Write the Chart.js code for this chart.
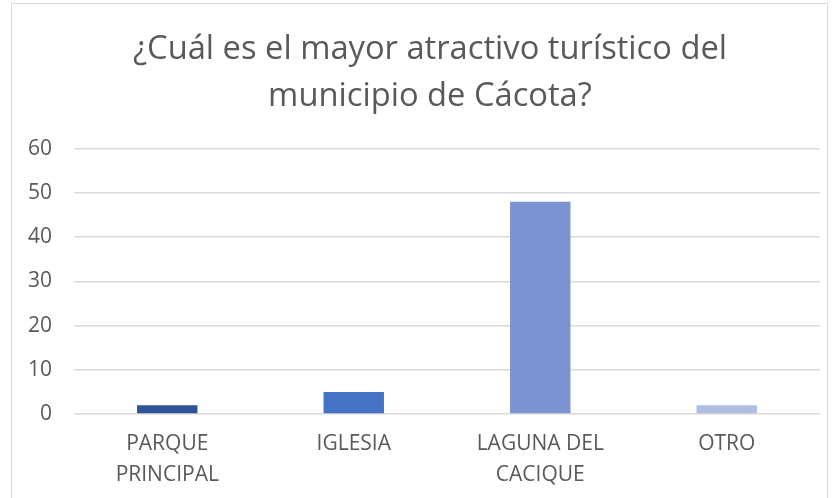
<!DOCTYPE html>
<html>
<head>
<meta charset="utf-8">
<script src="https://cdn.jsdelivr.net/npm/chart.js@4/dist/chart.umd.min.js"></script>
<style>
  html, body { margin: 0; padding: 0; background: #fff; }
  #wrap { position: relative; width: 835px; height: 498px; }
  #frame { position: absolute; left: 11px; top: 3px; width: 817px; height: 500px;
           border: 1px solid #d9d9d9; box-sizing: border-box; pointer-events: none; }
</style>
</head>
<body>
<div id="wrap">
  <canvas id="chart" width="835" height="498"></canvas>
  <div id="frame"></div>
</div>
<script>
    'use strict';

    const categories = [['PARQUE', 'PRINCIPAL'], 'IGLESIA', ['LAGUNA DEL', 'CACIQUE'], 'OTRO'];
    const values = [2, 5, 48, 2];
    const barColors = ['#2f5597', '#4472c4', '#7b93d0', '#b0bde2'];
    const titleLines = ['¿Cuál es el mayor atractivo turístico del', 'municipio de Cácota?'];

    const textColor = '#595959';
    const fontFamily = '"Open Sans", "Noto Sans", sans-serif';

    // the original title sits a bit right of the canvas centre
    const titleShift = {
        id: 'titleShift',
        afterLayout: function(chart) {
            if (chart.titleBlock) chart.titleBlock.left += 34;
        }
    };

    new Chart(document.getElementById('chart'), {
        type: 'bar',
        data: {
            labels: categories,
            datasets: [{
                data: values,
                backgroundColor: barColors,
                barPercentage: 0.54,
                categoryPercentage: 0.6
            }]
        },
        options: {
            responsive: false,
            animation: false,
            layout: { padding: { top: 26, left: 6, right: 15, bottom: -7 } },
            plugins: {
                legend: { display: false },
                tooltip: { enabled: false },
                title: {
                    display: true,
                    text: titleLines,
                    color: textColor,
                    font: { family: fontFamily, size: 32.7, weight: 'normal', lineHeight: 1.45 },
                    padding: { top: 0, bottom: 28 }
                }
            },
            scales: {
                x: {
                    grid: { display: false, drawTicks: false },
                    border: { display: false },
                    ticks: {
                        color: textColor,
                        font: { family: fontFamily, size: 21, lineHeight: 1.5 },
                        padding: 14,
                        maxRotation: 0
                    }
                },
                y: {
                    min: 0,
                    max: 60,
                    grid: { color: '#d9d9d9', lineWidth: 1.5, drawTicks: false },
                    border: { display: false },
                    ticks: {
                        stepSize: 10,
                        color: textColor,
                        font: { family: fontFamily, size: 21 },
                        padding: 22
                    }
                }
            }
        },
        plugins: [titleShift]
    });
</script>
</body>
</html>
